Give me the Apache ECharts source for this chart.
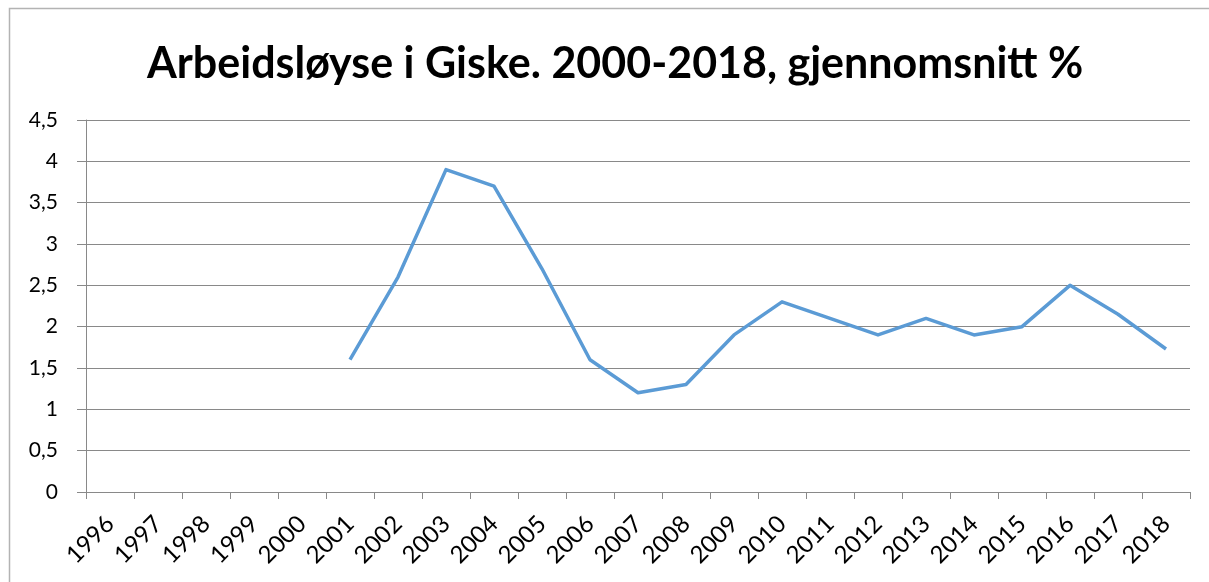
<!DOCTYPE html>
<html>
<head>
<meta charset="utf-8">
<script src="https://cdn.jsdelivr.net/npm/echarts@6/dist/echarts.min.js"></script>
<style>
html,body{margin:0;padding:0;background:#fff;}
#chart{width:1209px;height:582px;}
</style>
</head>
<body>
<div id="chart"></div>
<script>
const titleText = 'Arbeidsløyse i Giske. 2000-2018, gjennomsnitt %';
const years = ['1996','1997','1998','1999','2000','2001','2002','2003','2004','2005','2006','2007','2008','2009','2010','2011','2012','2013','2014','2015','2016','2017','2018'];
const unemployment = [null,null,null,null,null,1.6,2.6,3.9,3.7,2.7,1.6,1.2,1.3,1.9,2.3,2.1,1.9,2.1,1.9,2.0,2.5,2.15,1.73];
const yTicks = {min:0, max:4.5, interval:0.5};

const chart = echarts.init(document.getElementById('chart'), null, {renderer:'canvas'});
const font = 'Lato';
chart.setOption({
  animation:false,
  backgroundColor:'#fff',
  title:{
    text:titleText,
    left:142,
    top:38,
    textStyle:{fontFamily:font, fontWeight:'bold', fontSize:43, color:'#000'}
  },
  graphic:[{
    type:'rect',
    shape:{x:9.5,y:8.5,width:1400,height:800},
    style:{fill:'none',stroke:'#b3b3b3',lineWidth:1.5},
    silent:true
  }],
  grid:{left:86,right:19,top:120,bottom:90,containLabel:false},
  xAxis:{
    type:'category',
    data:years,
    boundaryGap:true,
    axisLine:{show:true,lineStyle:{color:'#898989',width:1}},
    axisTick:{show:true,length:7,interval:0,lineStyle:{color:'#898989'}},
    axisLabel:{interval:0,rotate:45,margin:28,fontFamily:font,fontSize:24,color:'#000'},
    splitLine:{show:false}
  },
  yAxis:{
    type:'value',
    min:yTicks.min,max:yTicks.max,interval:yTicks.interval,
    axisLine:{show:true,lineStyle:{color:'#898989',width:1}},
    axisTick:{show:true,length:9,inside:false,lineStyle:{color:'#898989'}},
    axisLabel:{margin:28,fontFamily:font,fontSize:21,color:'#000',
      formatter:v=>String(v).replace('.',',')},
    splitLine:{show:true,lineStyle:{color:'#898989',width:1}}
  },
  series:[{
    type:'line',
    data:unemployment,
    connectNulls:false,
    symbol:'none',
    lineStyle:{color:'#5B9BD5',width:3.5,join:'round'},
    itemStyle:{color:'#5B9BD5'}
  }]
});
</script>
</body>
</html>
